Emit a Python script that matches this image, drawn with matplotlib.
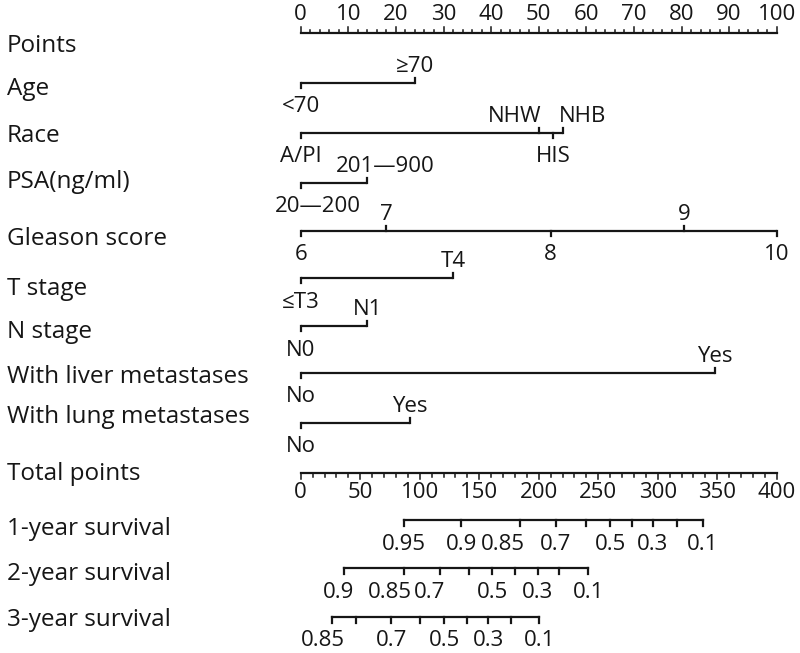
import matplotlib
matplotlib.use('Agg')
import matplotlib.pyplot as plt
import matplotlib.transforms as mtransforms

plt.rcParams['font.family'] = ['Open Sans', 'DejaVu Sans']

# predictor scales: level labels and the points they score
age_levels = ['<70', '≥70']
age_points = [0, 24]
race_levels = ['A/PI', 'NHW', 'HIS', 'NHB']
race_points = [0, 50, 53, 55]
psa_levels = ['20—200', '201—900']
psa_points = [0, 14]
gleason_levels = ['6', '7', '8', '9', '10']
gleason_points = [0, 18, 52.5, 80.5, 100]
t_levels = ['≤T3', 'T4']
t_points = [0, 32]
n_levels = ['N0', 'N1']
n_points = [0, 14]
liver_levels = ['No', 'Yes']
liver_points = [0, 87]
lung_levels = ['No', 'Yes']
lung_points = [0, 23]

# survival scales: ticks given in total points
surv1_total = [87, 135, 184, 214.5, 240, 260, 278, 296, 316, 338]
surv1_labels = ['0.95', '0.9', '0.85', '0.7', '', '0.5', '', '0.3', '', '0.1']
surv2_total = [36.5, 87, 117, 141.5, 161, 180, 199, 217, 241.5]
surv2_labels = ['0.9', '0.85', '0.7', '', '0.5', '', '0.3', '', '0.1']
surv3_total = [26, 46.5, 76, 100, 120.5, 139.5, 157.5, 177, 200.5]
surv3_labels = ['0.85', '', '0.7', '', '0.5', '', '0.3', '', '0.1']

# label nudges (pixels) where crowded labels were pushed aside
surv1_shift = {'0.85': -17}
surv2_shift = {'0.9': -6, '0.85': -14, '0.7': -10}
surv3_shift = {'0.85': -9}

INK = '#161616'
LW = 1.6
FS = 16
PX = 4.76  # pixels per point

fig = plt.figure(figsize=(8, 6.53), dpi=100)
ax = fig.add_axes([0, 0, 1, 1])
# x in points units (0 -> px 300.7, 100 -> px 776.7), y in pixels from top
ax.set_xlim(-300.7 / PX, (800 - 300.7) / PX)
ax.set_ylim(653, 0)
ax.axis('off')

left = mtransforms.blended_transform_factory(fig.transFigure, ax.transData)


def row_label(text, baseline):
    ax.text(7 / 800, baseline, text, transform=left, fontsize=17.5,
            color=INK, va='baseline', ha='left')


def predictor(y, levels, points, align=None):
    ax.plot([min(points), max(points)], [y, y], color=INK, lw=LW,
            solid_capstyle='butt')
    order = sorted(range(len(points)), key=lambda i: points[i])
    for k, i in enumerate(order):
        above = k % 2 == 1
        p = points[i]
        ax.plot([p, p], [y, y - 5 if above else y + 5], color=INK, lw=LW)
        ha, dx = 'center', 0
        if align and levels[i] in align:
            ha, dx = align[levels[i]]
        ax.text(p + dx / PX, y - 11 if above else y + 29.5, levels[i],
                fontsize=FS, color=INK, ha=ha, va='baseline')


# Points axis
row_label('Points', 52)
ax.plot([0, 100], [33, 33], color=INK, lw=LW)
for v in range(0, 101, 2):
    ax.plot([v, v], [33, 33 - (6 if v % 10 == 0 else 3.5)], color=INK, lw=1.1)
for v in range(0, 101, 10):
    ax.text(v, 20, str(v), fontsize=FS, color=INK, ha='center', va='baseline')

row_label('Age', 95)
predictor(83, age_levels, age_points)
row_label('Race', 141.5)
predictor(133, race_levels, race_points,
          align={'NHW': ('right', 3), 'NHB': ('left', -4)})
row_label('PSA(ng/ml)', 188)
predictor(183, psa_levels, psa_points,
          align={'20—200': ('center', 17), '201—900': ('center', 18)})
row_label('Gleason score', 245)
predictor(231, gleason_levels, gleason_points)
row_label('T stage', 295)
predictor(278, t_levels, t_points)
row_label('N stage', 338)
predictor(326, n_levels, n_points)
row_label('With liver metastases', 383)
predictor(373, liver_levels, liver_points)
row_label('With lung metastases', 423)
predictor(423, lung_levels, lung_points)

# Total points axis (0-400 on the same span)
row_label('Total points', 480)
ax.plot([0, 100], [473, 473], color=INK, lw=LW)
for v in range(0, 401, 10):
    ax.plot([v / 4, v / 4], [473, 473 + (6 if v % 50 == 0 else 4)],
            color=INK, lw=1.1)
for v in range(0, 401, 50):
    ax.text(v / 4, 498, str(v), fontsize=FS, color=INK, ha='center',
            va='baseline')


def survival(name, base, y, totals, labels, shift):
    row_label(name, base)
    xs = [t / 4 for t in totals]
    ax.plot([xs[0], xs[-1]], [y, y], color=INK, lw=LW)
    for x, lab in zip(xs, labels):
        ax.plot([x, x], [y, y + 6], color=INK, lw=LW)
        if lab:
            ax.text(x + shift.get(lab, 0) / PX, y + 29.5, lab, fontsize=FS,
                    color=INK, ha='center', va='baseline')


survival('1-year survival', 535, 520, surv1_total, surv1_labels, surv1_shift)
survival('2-year survival', 580, 568, surv2_total, surv2_labels, surv2_shift)
survival('3-year survival', 626, 617, surv3_total, surv3_labels, surv3_shift)

fig.savefig('out.png', dpi=100, facecolor='white')
